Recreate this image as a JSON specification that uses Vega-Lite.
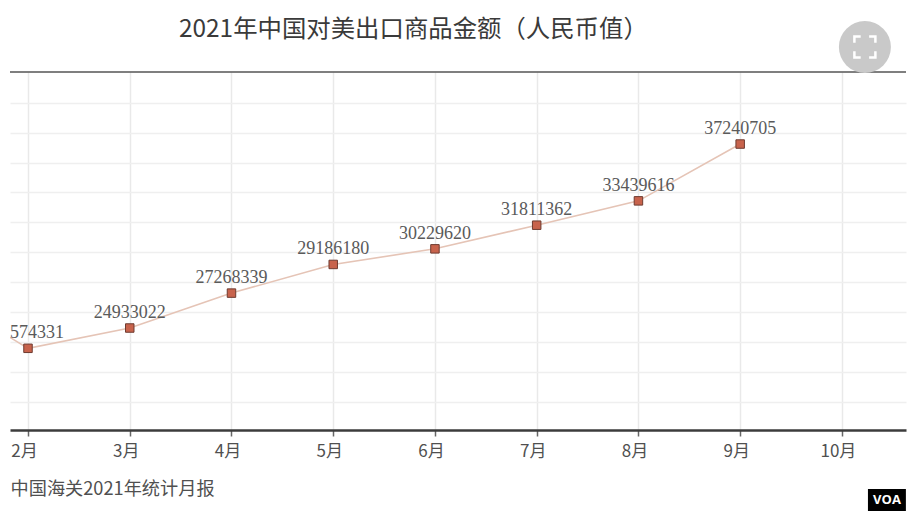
{
  "$schema": "https://vega.github.io/schema/vega-lite/v6.json",
  "autosize": "none",
  "width": 896,
  "height": 358,
  "padding": {"left": 10, "top": 72, "right": 4, "bottom": 86},
  "background": "white",
  "title": {
    "text": "2021年中国对美出口商品金额（人民币值）",
    "anchor": "start",
    "frame": "group",
    "dx": 169,
    "offset": -21,
    "font": "Noto Sans CJK SC",
    "fontSize": 24.4,
    "fontWeight": "normal",
    "color": "#3a3a3a"
  },
  "config": {"view": {"stroke": null}},
  "datasets": {
    "exports": [
      {"month": 1, "amount": 27700000},
      {"month": 2, "amount": 23574331},
      {"month": 3, "amount": 24933022},
      {"month": 4, "amount": 27268339},
      {"month": 5, "amount": 29186180},
      {"month": 6, "amount": 30229620},
      {"month": 7, "amount": 31811362},
      {"month": 8, "amount": 33439616},
      {"month": 9, "amount": 37240705}
    ]
  },
  "data": {"name": "exports"},
  "encoding": {
    "x": {
      "field": "month",
      "type": "quantitative",
      "scale": {"domain": [1.823, 10.63], "nice": false, "zero": false},
      "axis": {
        "values": [2, 3, 4, 5, 6, 7, 8, 9, 10],
        "labelExpr": "datum.value + '月'",
        "labelFont": "Noto Sans CJK SC",
        "labelFontSize": 17,
        "labelColor": "#505050",
        "labelOffset": -4,
        "labelPadding": 7,
        "labelFlush": false,
        "labelBound": false,
        "labelOverlap": false,
        "domainColor": "#3c3c3c",
        "domainWidth": 2.5,
        "tickColor": "#666666",
        "tickSize": 6,
        "tickWidth": 1.5,
        "gridColor": "#e9e9e9",
        "gridWidth": 1.5,
        "title": "中国海关2021年统计月报",
        "titleFont": "Noto Sans CJK SC",
        "titleFontSize": 18.2,
        "titleFontWeight": "normal",
        "titleColor": "#505050",
        "titleAnchor": "start",
        "titleAlign": "left",
        "titleBaseline": "middle",
        "titleX": 0,
        "titleY": 59
      }
    },
    "y": {
      "field": "amount",
      "type": "quantitative",
      "scale": {"domain": [18110000, 42060000], "nice": false, "zero": false},
      "axis": {
        "values": [20000000, 22000000, 24000000, 26000000, 28000000, 30000000, 32000000, 34000000, 36000000, 38000000, 40000000],
        "labels": false,
        "ticks": false,
        "domain": false,
        "title": null,
        "gridColor": "#efefef",
        "gridWidth": 1.5
      }
    }
  },
  "layer": [
    {
      "mark": {"type": "line", "color": "#e5c4b6", "strokeWidth": 1.6, "clip": true}
    },
    {
      "transform": [{"filter": "datum.month >= 2"}],
      "mark": {"type": "point", "shape": "square", "size": 72, "filled": true, "fill": "#c8634c", "stroke": "#6e3b30", "strokeWidth": 1, "opacity": 1, "clip": true}
    },
    {
      "transform": [{"filter": "datum.month >= 2"}],
      "mark": {"type": "text", "font": "Liberation Serif", "fontSize": 18, "color": "#5a5a5a", "dy": -15, "clip": true},
      "encoding": {"text": {"field": "amount", "type": "quantitative", "format": "d"}}
    },
    {
      "data": {"values": [{"line": 42060000}]},
      "mark": {"type": "rule", "color": "#555555", "strokeWidth": 1.5},
      "encoding": {"x": {"value": 0}, "x2": {"value": 896}, "y": {"field": "line", "type": "quantitative"}}
    },
    {
      "data": {"values": [{"month": 10.226, "amount": 43730000}]},
      "mark": {"type": "point", "shape": "circle", "size": 2704, "filled": true, "fill": "#c9c9c9", "opacity": 1, "clip": false}
    },
    {
      "data": {"values": [{"month": 10.226, "amount": 43730000}]},
      "mark": {"type": "point", "shape": "M-1,-0.4V-1H-0.4M0.4,-1H1V-0.4M1,0.4V1H0.4M-0.4,1H-1V0.4", "size": 441, "filled": false, "stroke": "white", "strokeWidth": 2.5, "opacity": 1, "clip": false}
    },
    {
      "data": {"values": [{"x0": 10.256, "x1": 10.629, "y0": 14167000, "y1": 12696000}]},
      "mark": {"type": "rect", "color": "black", "clip": false},
      "encoding": {
        "x": {"field": "x0", "type": "quantitative"},
        "x2": {"field": "x1"},
        "y": {"field": "y0", "type": "quantitative"},
        "y2": {"field": "y1"}
      }
    },
    {
      "data": {"values": [{"month": 10.443, "amount": 13430000, "badge": "VOA"}]},
      "mark": {"type": "text", "font": "Open Sans", "fontSize": 13, "fontWeight": "bold", "color": "white", "clip": false},
      "encoding": {"text": {"field": "badge", "type": "nominal"}}
    }
  ]
}
